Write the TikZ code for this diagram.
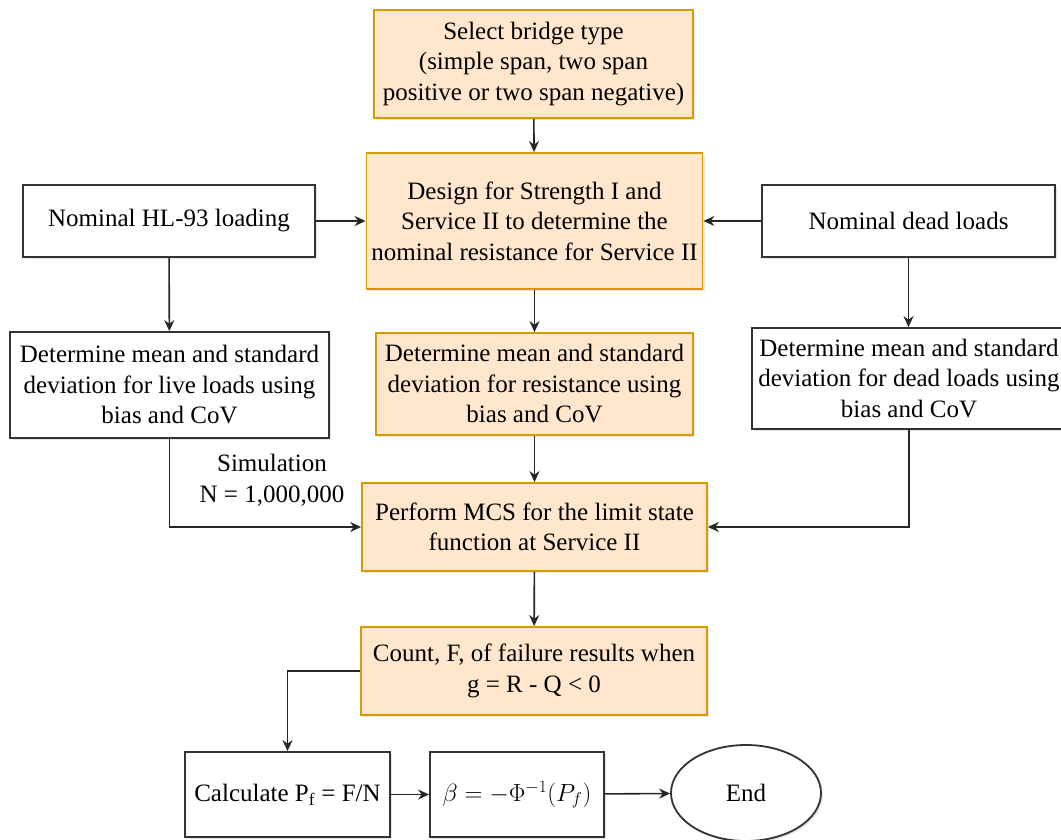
\documentclass[tikz,border=0pt]{standalone}
\usepackage{fontspec}
\setmainfont{LiberationSerif}[Extension=.ttf, UprightFont=*-Regular, BoldFont=*-Bold, ItalicFont=*-Italic]
\usetikzlibrary{shapes.geometric,arrows.meta,shadows}
\definecolor{orfill}{HTML}{FFE6CC}
\definecolor{orline}{HTML}{D79B00}

\begin{document}
\begin{tikzpicture}[x=1pt,y=-1pt,
  every node/.style={font=\rmfamily\fontsize{25}{30.5}\selectfont, align=center, inner sep=0pt},
  shade/.style={drop shadow={opacity=0.2, shadow xshift=2pt, shadow yshift=-2pt}},
  wbox/.style={rectangle, draw=black!80, line width=1.8pt, fill=white, shade},
  obox/.style={rectangle, draw=orline, line width=1.8pt, fill=orfill, shade},
  link/.style={draw=black!85, line width=1.6pt, -{Stealth[length=11pt,width=10pt]}}]
\clip (0,0) rectangle (1061,840);

\node[obox, minimum width=319, minimum height=108] (sel) at (533.5,64)
  {Select bridge type\\ (simple span, two span\\positive or two span negative)};
\node[obox, minimum width=336, minimum height=136] (design) at (534.5,221)
  {Design for Strength I and\\Service II to determine the\\nominal resistance for Service II};
\node[wbox, minimum width=292, minimum height=72] (hl) at (169,221) {Nominal HL-93 loading};
\node[wbox, minimum width=293, minimum height=72] (dead) at (908.5,221) {Nominal dead loads};
%top part

\node[wbox, minimum width=319, minimum height=106] (live) at (169.5,385)
  {Determine mean and standard\\deviation for live loads using\\bias and CoV};
\node[obox, minimum width=317, minimum height=102] (res) at (534.5,384)
  {Determine mean and standard\\deviation for resistance using\\bias and CoV};
\node[wbox, minimum width=314, minimum height=101] (deadstat) at (909,378.5)
  {Determine mean and standard\\deviation for dead loads using\\bias and CoV};
%statistics

\node (sim) at (272,480) {Simulation\\N = 1,000,000};
\node[obox, minimum width=345, minimum height=88] (mcs) at (534.5,527)
  {Perform MCS for the limit state\\function at Service II};
\node[obox, minimum width=346, minimum height=88] (count) at (534,671)
  {Count, F, of failure results when\\g = R - Q < 0};
%simulation

\node[wbox, minimum width=205, minimum height=85] (calc) at (287.5,794.5)
  {Calculate P\textsubscript{f} = F/N};
\node[wbox, minimum width=174, minimum height=85] (beta) at (517,794.5)
  {$\beta = -\Phi^{-1}(P_f)$};
\node[ellipse, draw=black!80, line width=1.8pt, fill=white, shade,
  minimum width=150, minimum height=96] (stop) at (746,793) {End};
%result

\draw[link] (sel) -- (design);
\draw[link] (hl) -- (design);
\draw[link] (dead) -- (design);
\draw[link] (hl) -- (live);
\draw[link] (dead.south) -- (dead.south |- deadstat.north);
\draw[link] (design) -- (res);
\draw[link] (live.south) |- (mcs.west);
\draw[link] (deadstat.south) |- (mcs.east);
\draw[link] (res) -- (mcs);
\draw[link] (mcs) -- (count);
\draw[link] (count.west) -| (calc.north);
\draw[link] (calc) -- (beta);
\draw[link] (beta) -- (stop);
\end{tikzpicture}
\end{document}
